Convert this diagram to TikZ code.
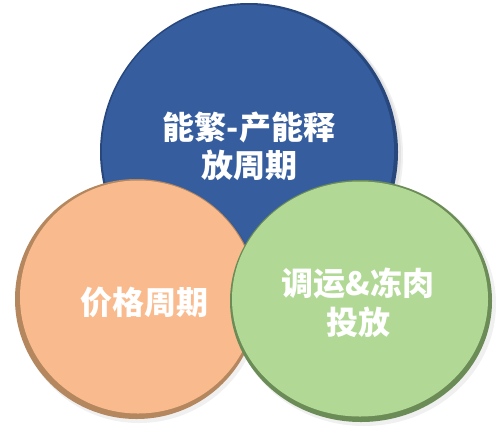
\documentclass[tikz,border=0pt]{standalone}
\usepackage{fontspec}
\newfontfamily\cjk{Noto Sans CJK SC}
\usetikzlibrary{shapes.geometric}
\definecolor{bluefill}{HTML}{365E9F}
\definecolor{bluerim}{HTML}{27477D}
\definecolor{orangefill}{HTML}{F9BB8D}
\definecolor{orangerim}{HTML}{B4875F}
\definecolor{greenfill}{HTML}{B1D995}
\definecolor{greenrim}{HTML}{6C8C57}
\tikzset{
  disc/.style={ellipse, inner sep=0pt},
  label/.style={inner sep=0pt, align=center, text=white,
    font=\cjk\bfseries\fontsize{32}{38}\selectfont},
  halo/.style={fill=black, opacity=0.06}
}
\begin{document}
\begin{tikzpicture}[x=1pt,y=-1pt]
\useasboundingbox (0,0) rectangle (497,429);
% blue
\fill[halo] (252,155) circle (151);
\fill[halo] (251,154) circle (150);
\fill[bluerim] (249,152) circle (149);
\node[disc, fill=bluefill, minimum width=292pt, minimum height=292pt] (blue) at (248,151) {};
\node[label] (bluelabel) at (249,146) {能繁-产能释\\放周期};
% orange
\fill[halo] (139,302) ellipse (122 and 121);
\fill[orangerim] (136.5,299) ellipse (121.5 and 120);
\node[disc, fill=orangefill, minimum width=236pt, minimum height=233pt] (orange) at (138,297) {};
\node[label] (orangelabel) at (144,302) {价格周期};
% green
\fill[halo] (364,304) ellipse (132 and 122);
\fill[greenrim] (361,301) ellipse (131 and 121);
\node[disc, fill=greenfill, minimum width=256pt, minimum height=235pt] (green) at (360,299) {};
\node[label, font=\cjk\bfseries\fontsize{32}{39}\selectfont] (greenlabel) at (358,303) {调运\&冻肉\\投放};
\end{tikzpicture}
\end{document}
